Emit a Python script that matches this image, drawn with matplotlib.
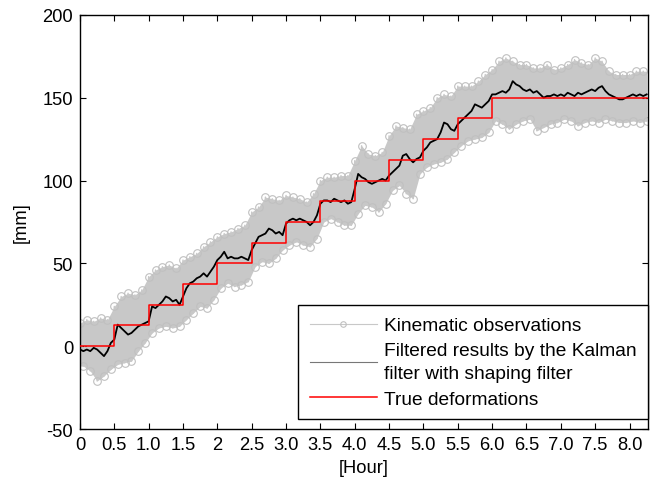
import numpy as np
import matplotlib
matplotlib.use("Agg")
import matplotlib.pyplot as plt

plt.rcParams['font.family'] = ['Liberation Sans', 'DejaVu Sans']
plt.rcParams['axes.unicode_minus'] = False

# ---------------- data ----------------
# upper extremes of the kinematic observations, every 0.1 h from 0.0 h
obs_upper = [14, 16, 15, 17, 16, 24, 30, 32, 31, 34,
             42, 46, 48, 49, 47, 52, 54, 56, 60, 63,
             66, 68, 69, 71, 73, 81, 84, 90, 89, 88,
             91, 90, 89, 87, 92, 100, 102, 102, 103, 103,
             112, 121, 116, 115, 117, 127, 133, 132, 131, 140,
             142, 144, 150, 152, 151, 157, 157, 157, 160, 164,
             167, 172, 174, 172, 170, 170, 168, 168, 170, 167,
             168, 170, 173, 171, 170, 174, 172, 166, 164, 164,
             164, 166, 166]
# lower extremes of the kinematic observations, every 0.1 h from 0.05 h
obs_lower = [-12, -15, -21, -18, -14, -11, -10, -9, -3, 2,
             8, 11, 12, 11, 12, 16, 20, 24, 23, 28,
             35, 38, 36, 37, 39, 48, 51, 50, 53, 58,
             61, 63, 61, 60, 65, 75, 77, 75, 73, 73,
             80, 85, 84, 81, 86, 94, 97, 92, 89, 104,
             108, 110, 111, 113, 117, 121, 124, 125, 126, 129,
             136, 134, 131, 134, 136, 137, 130, 132, 134, 135,
             137, 136, 133, 135, 136, 135, 137, 136, 135, 135,
             136, 135, 136]

# Kalman filter (with shaping filter) results, every 0.05 h from 0.0 h
filtered = [-2, -3, -2, -3, -1, -2, -4, -6, -3, 2,
            4, 13, 11, 9, 7, 8, 10, 12, 13, 14,
            15, 24, 23, 25, 27, 30, 29, 27, 28, 25,
            30, 35, 38, 39, 41, 42, 44, 42, 45, 48,
            52, 54, 57, 53, 54, 53, 53, 54, 53, 52,
            58, 62, 66, 67, 68, 71, 70, 68, 69, 67,
            74, 76, 77, 76, 77, 76, 75, 73, 75, 79,
            86, 88, 88, 87, 89, 88, 87, 88, 86, 87,
            95, 104, 102, 101, 99, 98, 99, 100, 101, 100,
            103, 105, 107, 109, 115, 116, 113, 111, 113, 114,
            118, 120, 123, 124, 125, 129, 135, 134, 131, 130,
            134, 136, 138, 140, 142, 146, 145, 144, 146, 148,
            152, 152, 153, 154, 153, 155, 160, 158, 157, 155,
            154, 155, 153, 154, 152, 150, 151, 151, 152, 151,
            152, 151, 153, 152, 151, 153, 152, 153, 154, 155,
            154, 156, 157, 154, 152, 151, 150, 149, 149, 150,
            151, 152, 151, 152, 151, 152]

# true deformation steps
true_hours = [0, 0.5, 1.0, 1.5, 2.0, 2.5, 3.0, 3.5, 4.0, 4.5, 5.0, 5.5, 6.0, 8.25]
true_mm = [0, 12.5, 25, 37.5, 50, 62.5, 75, 87.5, 100, 112.5, 125, 137.5, 150, 150]

x_ticks = [0, 0.5, 1.0, 1.5, 2.0, 2.5, 3.0, 3.5, 4.0, 4.5, 5.0, 5.5, 6.0, 6.5, 7.0, 7.5, 8.0]
x_ticklabels = ['0', '0.5', '1.0', '1.5', '2', '2.5', '3.0', '3.5', '4.0', '4.5',
                '5.0', '5.5', '6.0', '6.5', '7.0', '7.5', '8.0']
y_ticks = [-50, 0, 50, 100, 150, 200]

# ---------------- derived arrays ----------------
dt = 0.05
up = np.array(obs_upper, float)
lo = np.array(obs_lower, float)
t_up = np.arange(len(up)) * 2 * dt
t_lo = t_up + dt
obs = np.empty(len(up) + len(lo))
obs[0::2] = up
obs[1::2] = lo
t_obs = np.arange(len(obs)) * dt
t_filt = np.arange(len(filtered)) * dt

# ---------------- plot ----------------
fig = plt.figure(figsize=(6.5, 4.81), dpi=100)
ax = fig.add_axes([0.123, 0.106, 0.874, 0.861])

gray = '#c8c8c8'
ax.fill_between(t_obs, np.interp(t_obs, t_lo, lo), np.interp(t_obs, t_up, up),
                color=gray, lw=0, zorder=1)
ax.plot(t_obs, obs, color=gray, lw=1.0, marker='o', ms=5.5, mfc='none',
        mec='#c0c0c0', mew=0.8, label='Kinematic observations', zorder=2)
ax.plot(t_filt, filtered, color='black', lw=1.3,
        label='Filtered results by the Kalman\nfilter with shaping filter', zorder=3)
ax.step(true_hours, true_mm, where='post', color='red', lw=1.1,
        label='True deformations', zorder=4)

ax.set_xlim(0, 8.27)
ax.set_ylim(-50, 200)
ax.set_xticks(x_ticks)
ax.set_xticklabels(x_ticklabels)
ax.set_yticks(y_ticks)
ax.tick_params(direction='in', top=True, right=True, length=4, width=0.8,
               labelsize=13.2, pad=5)
for s in ax.spines.values():
    s.set_linewidth(1.0)

ax.set_xlabel('[Hour]', fontsize=13.2, labelpad=4)
ax.set_ylabel('[mm]', fontsize=13.2, labelpad=9)

leg = ax.legend(loc='lower right', bbox_to_anchor=(1.0, 0.024), borderaxespad=0,
                fontsize=13.8, frameon=True, fancybox=False, edgecolor='black',
                framealpha=1, handlelength=3.5, handletextpad=0.38,
                labelspacing=0.4, borderpad=0.6)
for txt in leg.get_texts():
    txt.set_linespacing(1.5)
leg.get_frame().set_linewidth(1.0)
h0 = leg.legend_handles[0]
h0.set_markersize(4)
h0.set_linewidth(0.8)
leg.legend_handles[1].set_linewidth(0.8)
leg.legend_handles[1].set_color('#777777')

fig.savefig('out.png', dpi=100)
